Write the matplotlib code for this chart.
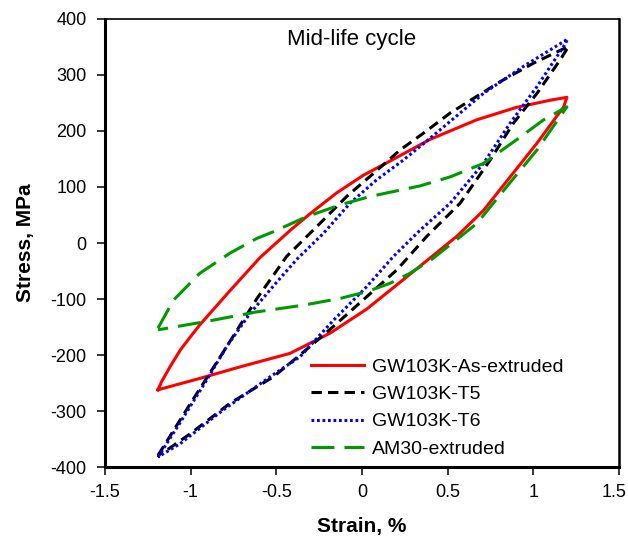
import matplotlib
matplotlib.use('Agg')
import matplotlib.pyplot as plt
from matplotlib.transforms import ScaledTranslation

plt.rcParams['font.family'] = ['Liberation Sans', 'DejaVu Sans']

# each loop: lower-left tip -> upper branch -> upper-right tip -> lower branch -> back
# GW103K as-extruded
red_x = [-1.19, -1.17, -1.12, -1.06, -1.0, -0.946, -0.77, -0.595, -0.41, -0.304, -0.15, 0.008, 0.125, 0.319, 0.397,
         0.67, 0.90, 1.10, 1.195,
         1.176, 1.02, 0.864, 0.708, 0.553, 0.416, 0.222, 0.027, -0.187, -0.362, -0.42, -0.71, -0.95, -1.19]
red_y = [-262, -248, -221, -191, -167, -146, -85, -26, 25, 52, 89, 121, 140, 172, 185,
         220, 242, 255, 260,
         243, 178, 118, 58, 12, -22, -70, -118, -161, -188, -197, -221, -242, -262]

# GW103K-T5
t5_x = [-1.19, -1.0, -0.81, -0.615, -0.44, -0.265, -0.09, 0.066, 0.222, 0.358, 0.514, 0.806, 1.0, 1.205,
        1.156, 1.02, 0.883, 0.747, 0.572, 0.378, 0.203, 0.027, -0.167, -0.362, -0.518, -0.77, -1.0, -1.14, -1.19]
t5_y = [-379, -286, -195, -100, -24, 29, 83, 124, 166, 196, 232, 288, 321, 351,
        327, 267, 214, 148, 71, 12, -48, -96, -149, -200, -239, -286, -340, -370, -379]

# GW103K-T6
t6_x = [-1.19, -1.06, -0.907, -0.79, -0.654, -0.498, -0.38, -0.226, -0.07, 0.086, 0.241, 0.397, 0.708, 0.94, 1.20,
        1.176, 1.02, 0.864, 0.708, 0.514, 0.339, 0.183, 0.027, -0.167, -0.362, -0.537, -0.81, -1.06, -1.19]
t6_y = [-382, -320, -245, -185, -126, -70, -29, 17, 71, 113, 148, 187, 267, 315, 364,
        351, 279, 214, 142, 71, 23, -24, -78, -138, -203, -239, -298, -358, -382]

# AM30-extruded
am_x = [-1.19, -1.10, -0.946, -0.77, -0.615, -0.518, -0.323, -0.128, 0.047, 0.339, 0.514, 0.708, 0.90, 1.06, 1.195,
        1.156, 1.02, 0.845, 0.67, 0.572, 0.416, 0.28, 0.163, 0.027, -0.128, -0.343, -0.615, -0.907, -1.19]
am_y = [-152, -102, -54, -18, 8, 20, 47, 68, 83, 102, 118, 142, 184, 220, 243,
        226, 166, 101, 35, 11, -27, -54, -72, -87, -99, -111, -123, -140, -155]

x_ticks = [-1.5, -1, -0.5, 0, 0.5, 1, 1.5]
x_labels = ['-1.5', '-1', '-0.5', '0', '0.5', '1', '1.5']
y_ticks = [-400, -300, -200, -100, 0, 100, 200, 300, 400]

fig = plt.figure(figsize=(6.28, 5.40), dpi=100)
ax = fig.add_axes([0.167, 0.135, 0.819, 0.830])

ax.plot(red_x, red_y, color='red', lw=2.2, ls='-', label='GW103K-As-extruded')
ax.plot(t5_x, t5_y, color='black', lw=2.2, ls=(0, (3.4, 2.0)), label='GW103K-T5')
ax.plot(t6_x, t6_y, color='blue', lw=2.2, ls=(0, (0.9, 0.9)), label='GW103K-T6')
ax.plot(am_x, am_y, color='#009900', lw=2.2, ls=(0, (7.5, 3.3)), label='AM30-extruded')

ax.set_xlim(-1.5, 1.5)
ax.set_ylim(-400, 400)
ax.set_xticks(x_ticks)
ax.set_xticklabels(x_labels)
ax.set_yticks(y_ticks)
ax.set_yticklabels([str(v) for v in y_ticks])
ax.tick_params(direction='out', length=6, width=1.1, labelsize=13)
ax.tick_params(axis='y', pad=7)
ax.tick_params(axis='x', pad=6)
for side in ['left', 'bottom']:
    ax.spines[side].set_linewidth(2.2)
ax.spines['top'].set_linewidth(1.2)
ax.spines['right'].set_linewidth(1.8)

# nudge the last x label so it stays inside the picture
last = ax.get_xticklabels()[-1]
last.set_transform(last.get_transform() + ScaledTranslation(-0.05, 0, fig.dpi_scale_trans))

ax.set_xlabel('Strain, %', fontsize=15, fontweight='bold', labelpad=12)
ax.set_ylabel('Stress, MPa', fontsize=15, fontweight='bold', labelpad=11)

ax.text(-0.06, 364, 'Mid-life cycle', fontsize=16, ha='center', va='center')

ax.legend(loc='upper left', bbox_to_anchor=(0.40, 0.243), frameon=False, fontsize=14,
          handlelength=2.75, handletextpad=0.4, borderpad=0, borderaxespad=0,
          labelspacing=0.5)

fig.savefig('out.png', dpi=100)
